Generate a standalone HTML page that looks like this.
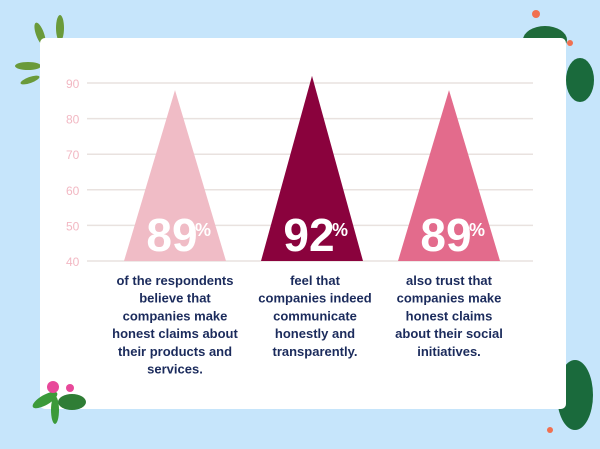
<!DOCTYPE html>
<html><head><meta charset="utf-8"><style>
body{margin:0;width:600px;height:449px;overflow:hidden;background:#c6e5fb;font-family:"Liberation Sans",sans-serif}
svg{display:block}
.desc{font-size:13px;font-weight:bold;fill:#1b2b5c}
</style></head><body>
<svg id="chart" width="600" height="449">
  <g>
    <ellipse cx="40" cy="34" rx="4" ry="12" fill="#6a9a3a" transform="rotate(-20 40 34)"/>
    <ellipse cx="60" cy="28" rx="4" ry="13" fill="#6a9a3a"/>
    <ellipse cx="28" cy="66" rx="13" ry="4" fill="#6a9a3a"/>
    <ellipse cx="30" cy="80" rx="10" ry="3" fill="#6a9a3a" transform="rotate(-20 30 80)"/>
  </g>
  <g>
    <ellipse cx="545" cy="40" rx="22" ry="14" fill="#1f6b3a"/>
    <ellipse cx="580" cy="80" rx="14" ry="22" fill="#1a6a3c"/>
    <circle cx="536" cy="14" r="4" fill="#f07050"/>
    <circle cx="570" cy="43" r="3" fill="#f07050"/>
  </g>
  <g>
    <ellipse cx="575" cy="395" rx="18" ry="35" fill="#1a6a3c"/>
    <circle cx="550" cy="430" r="3" fill="#f07050"/>
  </g>
  <rect x="40" y="38" width="526" height="371" rx="5" fill="#ffffff"/>
  <g>
    <ellipse cx="45" cy="400" rx="14" ry="5" fill="#3c9a3a" transform="rotate(-30 45 400)"/>
    <ellipse cx="72" cy="402" rx="14" ry="8" fill="#2f7d35"/>
    <ellipse cx="55" cy="410" rx="4" ry="14" fill="#3c9a3a"/>
    <circle cx="53" cy="387" r="6" fill="#e8489a"/>
    <circle cx="70" cy="388" r="4" fill="#e8489a"/>
  </g>
  <g id="grid"></g>
  <g id="marks"></g>
</svg>
<script>
const ticks=[40,50,60,70,80,90];
const values=[88,92,88];
const labels=["89","92","89"];
const colors=["#f0bcc6","#8a023d","#e36b8c"];
const descs=[
 ["of the respondents","believe that","companies make","honest claims about","their products and","services."],
 ["feel that","companies indeed","communicate","honestly and","transparently."],
 ["also trust that","companies make","honest claims","about their social","initiatives."]
];
const NS="http://www.w3.org/2000/svg";
const y=v=>261-(v-40)*3.56;
const cx=i=>175+i*137;
function mk(t,a,p){const e=document.createElementNS(NS,t);for(const k in a)e.setAttribute(k,a[k]);p.appendChild(e);return e;}
const grid=document.getElementById('grid'),marks=document.getElementById('marks');
ticks.forEach(t=>{
  const l=mk('line',{x1:87,x2:533,y1:y(t),y2:y(t),stroke:'#e9e2df','stroke-width':1.5},grid);
  
  
  const tx=mk('text',{x:66,y:y(t)+5,'text-anchor':'start','font-size':12,fill:'#f2b8c3'},grid);
  tx.textContent=t;
  
  
});
values.forEach((v,i)=>{
  const c=cx(i);
  const p=mk('polygon',{points:`${c-51},${y(40)} ${c},${y(v)} ${c+51},${y(40)}`,fill:colors[i]},marks);
  
  
  const t=mk('text',{x:c-3,y:251,'text-anchor':'middle','font-size':46,'font-weight':'bold',fill:'#fff'},marks);
  t.textContent=labels[i];
  
  
  const pc=mk('text',{x:c+28,y:236,'text-anchor':'middle','font-size':18,'font-weight':'bold',fill:'#fff'},marks);
  pc.textContent='%';
  
  
  const d=mk('text',{'text-anchor':'middle',class:'desc'},marks);
  
  
  descs[i].forEach((s,j)=>{const ts=mk('tspan',{x:c+(i==1?3:0),y:285+j*17.7},d);ts.textContent=s;});
});
</script>
</body></html>
